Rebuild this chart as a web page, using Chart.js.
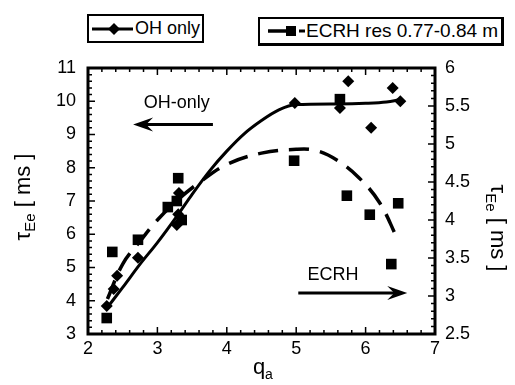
<!DOCTYPE html>
<html>
<head>
<meta charset="utf-8">
<title>tau_Ee vs q_a</title>
<script src="https://cdn.jsdelivr.net/npm/chart.js@4"></script>
<style>
  html, body { margin: 0; padding: 0; background: #fff; }
  #wrap { position: relative; width: 515px; height: 385px; }
  .leg {
    position: absolute; box-sizing: border-box; border: 2px solid #000; background: #fff;
    font-family: "Liberation Sans", Arial, sans-serif; color: #000;
    display: flex; align-items: center; white-space: nowrap;
  }
  .leg svg { display: block; flex: none; }
</style>
</head>
<body>
<div id="wrap">
  <canvas id="tauChart" width="515" height="385"></canvas>
  <div class="leg" style="left:87px;top:14px;width:117px;height:29px;font-size:18px;">
    <svg width="46" height="14"><line x1="3" y1="7" x2="44" y2="7" stroke="#000" stroke-width="3"/><polygon points="25,1 31,7 25,13 19,7" fill="#000"/></svg>OH only
  </div>
  <div class="leg" style="left:258px;top:17px;width:246px;height:29px;font-size:19px;border-width:2px 3px 3px 2px;">
    <svg width="46" height="14"><line x1="8" y1="7" x2="26" y2="7" stroke="#000" stroke-width="3.5"/><rect x="26" y="2" width="10" height="10" fill="#000"/><line x1="39" y1="7" x2="45" y2="7" stroke="#000" stroke-width="3"/></svg>ECRH res 0.77-0.84 m
  </div>
</div>
<script>
// OH only: measured points (left axis, ms)
const qOH   = [2.27, 2.37, 2.42, 2.72, 3.28, 3.30, 3.31, 4.98, 5.63, 5.75, 6.08, 6.39, 6.50];
const tauOH = [3.84, 4.35, 4.75, 5.29, 6.28, 6.60, 7.24, 9.95, 9.80, 10.6, 9.20, 10.4, 10.0];

// ECRH res 0.77-0.84 m: measured points (right axis, ms)
const qEC   = [2.27, 2.35, 2.72, 3.15, 3.28, 3.30, 3.35, 4.97, 5.63, 5.73, 6.06, 6.37, 6.47];
const tauEC = [2.71, 3.58, 3.74, 4.17, 4.25, 4.55, 4.00, 4.78, 5.59, 4.32, 4.07, 3.42, 4.22];

// fitted curves
const fitQOH   = [2.28, 2.5, 2.75, 3.0, 3.3, 3.5, 3.75, 4.0, 4.25, 4.5, 4.75, 5.0, 5.6, 6.0, 6.3, 6.5];
const fitTauOH = [3.80, 4.40, 5.10, 5.75, 6.60, 7.20, 7.90, 8.50, 9.02, 9.42, 9.74, 9.90, 9.92, 9.94, 9.98, 10.05];
const fitQEC   = [2.28, 2.5, 2.75, 3.0, 3.3, 3.6, 4.0, 4.5, 5.0, 5.3, 5.6, 5.9, 6.2, 6.45];
const fitTauEC = [2.96, 3.42, 3.72, 4.00, 4.27, 4.49, 4.73, 4.88, 4.93, 4.91, 4.78, 4.56, 4.23, 3.77];

const FONT = '"Liberation Sans", Arial, sans-serif';
const toXY = (xs, ys) => xs.map((x, i) => ({ x: x, y: ys[i] }));

function arrow(ctx, x1, x2, y) {
  const dir = x2 > x1 ? 1 : -1;
  ctx.lineWidth = 3;
  ctx.beginPath();
  ctx.moveTo(x1, y);
  ctx.lineTo(x2 - dir * 10, y);
  ctx.stroke();
  ctx.beginPath();
  ctx.moveTo(x2, y);
  ctx.lineTo(x2 - dir * 20, y - 7);
  ctx.lineTo(x2 - dir * 13, y);
  ctx.lineTo(x2 - dir * 20, y + 7);
  ctx.closePath();
  ctx.fill();
}

// "τ" + subscript "Ee" + " [ ms ]", centred on the current origin
function tauTitle(ctx) {
  const big = '22px ' + FONT, small = '15px ' + FONT;
  ctx.font = big;
  const w1 = ctx.measureText('τ').width;
  const w3 = ctx.measureText(' [ ms ]').width;
  ctx.font = small;
  const w2 = ctx.measureText('Ee').width;
  let x = -(w1 + w2 + w3) / 2;
  ctx.textAlign = 'left';
  ctx.textBaseline = 'middle';
  ctx.font = big;
  ctx.fillText('τ', x, 0);
  x += w1;
  ctx.font = small;
  ctx.fillText('Ee', x, 7);
  x += w2;
  ctx.font = big;
  ctx.fillText(' [ ms ]', x, 0);
}

const frame = {
  id: 'frame',
  afterDraw(chart) {
    const { ctx, chartArea: a, scales: { x, y, y2 } } = chart;
    ctx.save();
    ctx.strokeStyle = '#000';
    ctx.fillStyle = '#000';

    // inward ticks, bottom and top
    ctx.lineWidth = 1.5;
    ctx.beginPath();
    for (let i = 0; i <= 25; i++) {
      const px = x.getPixelForValue(2 + i * 0.2);
      const len = i % 5 === 0 ? 7 : 4;
      ctx.moveTo(px, a.bottom); ctx.lineTo(px, a.bottom - len);
      ctx.moveTo(px, a.top); ctx.lineTo(px, a.top + len);
    }
    // left axis
    for (let i = 0; i <= 40; i++) {
      const py = y.getPixelForValue(3 + i * 0.2);
      const len = i % 5 === 0 ? 7 : 4;
      ctx.moveTo(a.left, py); ctx.lineTo(a.left + len, py);
    }
    // right axis
    for (let i = 0; i <= 35; i++) {
      const py = y2.getPixelForValue(2.5 + i * 0.1);
      const len = i % 5 === 0 ? 7 : 4;
      ctx.moveTo(a.right, py); ctx.lineTo(a.right - len, py);
    }
    ctx.stroke();

    // box
    ctx.lineWidth = 3;
    ctx.strokeRect(a.left, a.top, a.right - a.left, a.bottom - a.top);

    // annotations
    ctx.font = '18px ' + FONT;
    ctx.textAlign = 'center';
    ctx.textBaseline = 'middle';
    ctx.fillText('OH-only', x.getPixelForValue(3.28), y.getPixelForValue(9.95));
    arrow(ctx, x.getPixelForValue(3.8), x.getPixelForValue(2.65), y.getPixelForValue(9.3));
    ctx.fillText('ECRH', x.getPixelForValue(5.53), y.getPixelForValue(4.77));
    arrow(ctx, x.getPixelForValue(5.03), x.getPixelForValue(6.6), y.getPixelForValue(4.23));

    // axis titles
    ctx.save();
    ctx.translate(24, 197);
    ctx.rotate(-Math.PI / 2);
    tauTitle(ctx);
    ctx.restore();

    ctx.save();
    ctx.translate(497, 228);
    ctx.rotate(Math.PI / 2);
    tauTitle(ctx);
    ctx.restore();

    ctx.textAlign = 'left';
    ctx.textBaseline = 'alphabetic';
    ctx.font = '22px ' + FONT;
    ctx.fillText('q', 253, 374);
    ctx.font = '14px ' + FONT;
    ctx.fillText('a', 265, 379);
    ctx.restore();
  }
};

const tickFont = { family: FONT, size: 18 };
const plainLabel = (v) => String(v);

new Chart(document.getElementById('tauChart'), {
  type: 'scatter',
  data: {
    datasets: [
      {
        label: 'OH fit',
        data: toXY(fitQOH, fitTauOH),
        yAxisID: 'y',
        showLine: true,
        borderColor: '#000',
        borderWidth: 3,
        cubicInterpolationMode: 'monotone',
        pointRadius: 0,
      },
      {
        label: 'ECRH fit',
        data: toXY(fitQEC, fitTauEC),
        yAxisID: 'y2',
        showLine: true,
        borderColor: '#000',
        borderWidth: 3.5,
        borderDash: [20, 11],
        tension: 0.4,
        pointRadius: 0,
      },
      {
        label: 'OH only',
        data: toXY(qOH, tauOH),
        yAxisID: 'y',
        pointStyle: 'rectRot',
        pointRadius: 6,
        backgroundColor: '#000',
        borderColor: '#000',
        borderWidth: 0,
      },
      {
        label: 'ECRH res 0.77-0.84 m',
        data: toXY(qEC, tauEC),
        yAxisID: 'y2',
        pointStyle: 'rect',
        pointRadius: 7.5,
        backgroundColor: '#000',
        borderColor: '#000',
        borderWidth: 0,
      },
    ],
  },
  options: {
    responsive: false,
    animation: false,
    layout: { padding: { top: 68 } },
    plugins: { legend: { display: false }, tooltip: { enabled: false } },
    scales: {
      x: {
        type: 'linear',
        min: 2, max: 7,
        grid: { display: false, drawTicks: false },
        border: { display: false },
        ticks: { stepSize: 1, color: '#000', font: tickFont, padding: 4, callback: plainLabel },
        afterFit: (s) => { s.height = 51; },
      },
      y: {
        position: 'left',
        min: 3, max: 11,
        grid: { display: false, drawTicks: false },
        border: { display: false },
        ticks: { stepSize: 1, color: '#000', font: tickFont, padding: 12, callback: plainLabel },
        afterFit: (s) => { s.width = 88; },
      },
      y2: {
        position: 'right',
        min: 2.5, max: 6,
        grid: { display: false, drawTicks: false },
        border: { display: false },
        ticks: { stepSize: 0.5, color: '#000', font: tickFont, padding: 10, callback: plainLabel },
        afterFit: (s) => { s.width = 80; },
      },
    },
  },
  plugins: [frame],
});
</script>
</body>
</html>
